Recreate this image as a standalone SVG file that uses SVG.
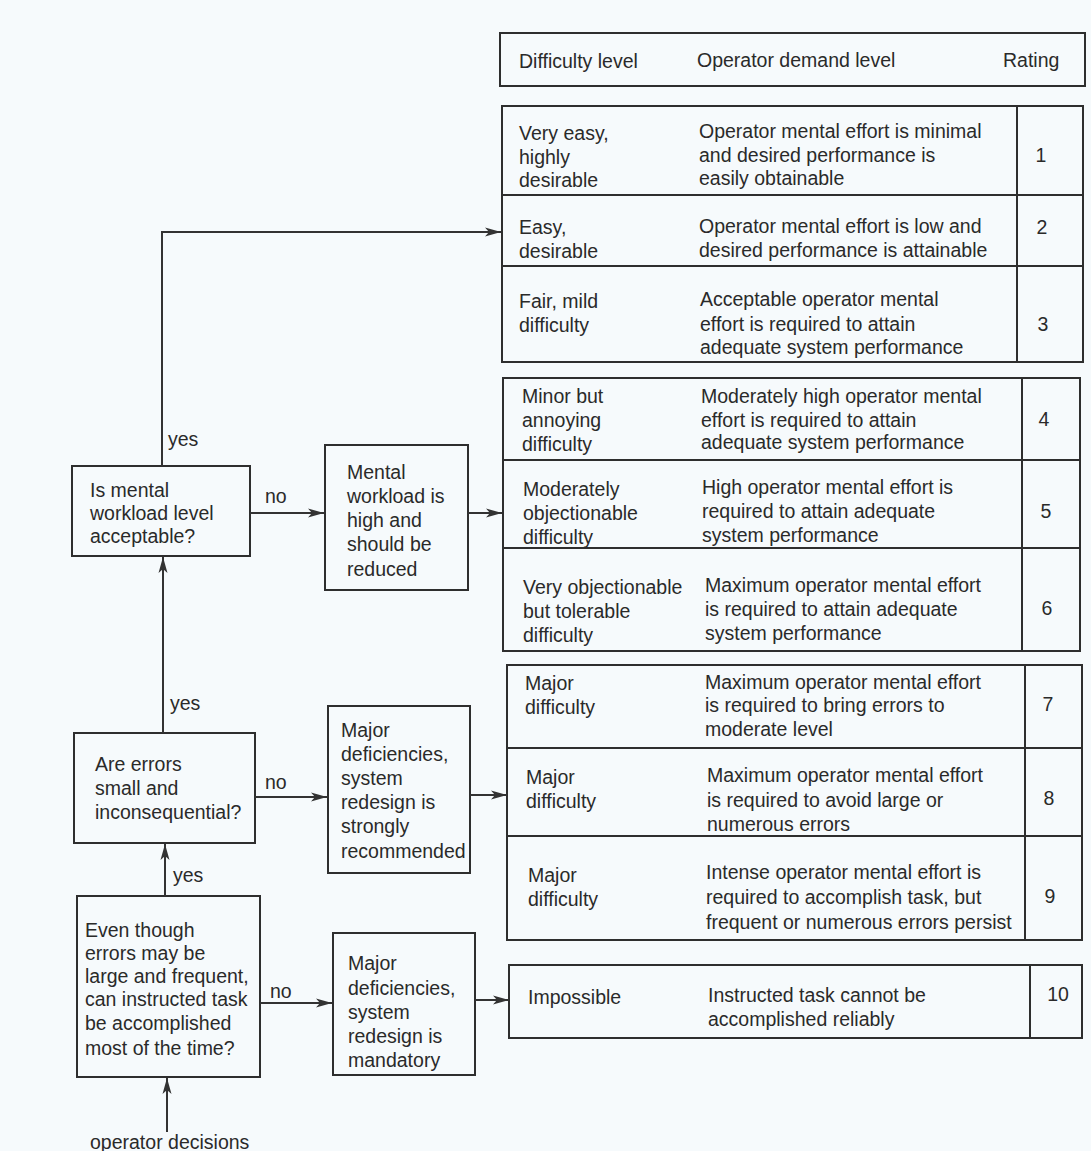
<svg xmlns="http://www.w3.org/2000/svg" width="1091" height="1151" viewBox="0 0 1091 1151">
<defs>
<style>
text{font-family:"Liberation Sans",Arial,sans-serif;font-size:19.5px;fill:#2a2a2a;}
.box{fill:none;stroke:#2e2e2e;stroke-width:2;}
.ln{fill:none;stroke:#2e2e2e;stroke-width:2;}
.c{fill:none;stroke:#333;stroke-width:2;}
.r{text-anchor:middle;}
</style>
<marker id="ah" markerUnits="userSpaceOnUse" markerWidth="18" markerHeight="12" refX="16" refY="6" orient="auto">
<path d="M0,1.5 L16,6 L0,10.5 L4,6 Z" fill="#333"/>
</marker>
</defs>
<rect width="1091" height="1151" fill="#f6fafc"/>

<g id="header">
<rect class="box" x="500" y="33" width="585" height="53"/>
<text x="519" y="68">Difficulty level</text>
<text x="697" y="67">Operator demand level</text>
<text x="1003" y="67">Rating</text>
</g>

<g id="group1">
<rect class="box" x="502" y="106" width="581" height="256"/>
<line class="ln" x1="502" y1="195" x2="1083" y2="195"/>
<line class="ln" x1="502" y1="266" x2="1083" y2="266"/>
<line class="ln" x1="1017" y1="106" x2="1017" y2="362"/>
</g>
<g id="row1">
<text><tspan x="519" y="140">Very easy,</tspan><tspan x="519" y="164">highly</tspan><tspan x="519" y="187">desirable</tspan></text>
<text><tspan x="699" y="138">Operator mental effort is minimal</tspan><tspan x="699" y="162">and desired performance is</tspan><tspan x="699" y="185">easily obtainable</tspan></text>
<text class="r" x="1041" y="162">1</text>
</g>
<g id="row2">
<text><tspan x="519" y="234">Easy,</tspan><tspan x="519" y="258">desirable</tspan></text>
<text><tspan x="699" y="233">Operator mental effort is low and</tspan><tspan x="699" y="257">desired performance is attainable</tspan></text>
<text class="r" x="1042" y="234">2</text>
</g>
<g id="row3">
<text><tspan x="519" y="308">Fair, mild</tspan><tspan x="519" y="332">difficulty</tspan></text>
<text><tspan x="700" y="306">Acceptable operator mental</tspan><tspan x="700" y="331">effort is required to attain</tspan><tspan x="700" y="354">adequate system performance</tspan></text>
<text class="r" x="1043" y="331">3</text>
</g>

<g id="group2">
<rect class="box" x="503" y="378" width="577" height="273"/>
<line class="ln" x1="503" y1="460" x2="1080" y2="460"/>
<line class="ln" x1="503" y1="548" x2="1080" y2="548"/>
<line class="ln" x1="1022" y1="378" x2="1022" y2="651"/>
</g>
<g id="row4">
<text><tspan x="522" y="403">Minor but</tspan><tspan x="522" y="427">annoying</tspan><tspan x="522" y="451">difficulty</tspan></text>
<text><tspan x="701" y="403">Moderately high operator mental</tspan><tspan x="701" y="427">effort is required to attain</tspan><tspan x="701" y="449">adequate system performance</tspan></text>
<text class="r" x="1044" y="426">4</text>
</g>
<g id="row5">
<text><tspan x="523" y="496">Moderately</tspan><tspan x="523" y="520">objectionable</tspan><tspan x="523" y="544">difficulty</tspan></text>
<text><tspan x="702" y="494">High operator mental effort is</tspan><tspan x="702" y="518">required to attain adequate</tspan><tspan x="702" y="542">system performance</tspan></text>
<text class="r" x="1046" y="518">5</text>
</g>
<g id="row6">
<text><tspan x="523" y="594">Very objectionable</tspan><tspan x="523" y="618">but tolerable</tspan><tspan x="523" y="642">difficulty</tspan></text>
<text><tspan x="705" y="592">Maximum operator mental effort</tspan><tspan x="705" y="616">is required to attain adequate</tspan><tspan x="705" y="640">system performance</tspan></text>
<text class="r" x="1047" y="615">6</text>
</g>

<g id="group3">
<rect class="box" x="507" y="665" width="575" height="275"/>
<line class="ln" x1="507" y1="748" x2="1082" y2="748"/>
<line class="ln" x1="507" y1="836" x2="1082" y2="836"/>
<line class="ln" x1="1025" y1="665" x2="1025" y2="940"/>
</g>
<g id="row7">
<text><tspan x="525" y="690">Major</tspan><tspan x="525" y="714">difficulty</tspan></text>
<text><tspan x="705" y="689">Maximum operator mental effort</tspan><tspan x="705" y="712">is required to bring errors to</tspan><tspan x="705" y="736">moderate level</tspan></text>
<text class="r" x="1048" y="711">7</text>
</g>
<g id="row8">
<text><tspan x="526" y="784">Major</tspan><tspan x="526" y="808">difficulty</tspan></text>
<text><tspan x="707" y="782">Maximum operator mental effort</tspan><tspan x="707" y="807">is required to avoid large or</tspan><tspan x="707" y="831">numerous errors</tspan></text>
<text class="r" x="1049" y="805">8</text>
</g>
<g id="row9">
<text><tspan x="528" y="882">Major</tspan><tspan x="528" y="906">difficulty</tspan></text>
<text><tspan x="706" y="879">Intense operator mental effort is</tspan><tspan x="706" y="904">required to accomplish task, but</tspan><tspan x="706" y="929">frequent or numerous errors persist</tspan></text>
<text class="r" x="1050" y="903">9</text>
</g>

<g id="group4">
<rect class="box" x="509" y="965" width="573" height="73"/>
<line class="ln" x1="1030" y1="965" x2="1030" y2="1038"/>
</g>
<g id="row10">
<text x="528" y="1004">Impossible</text>
<text><tspan x="708" y="1002">Instructed task cannot be</tspan><tspan x="708" y="1026">accomplished reliably</tspan></text>
<text class="r" x="1058" y="1001">10</text>
</g>

<g id="q-workload">
<rect class="box" x="72" y="466" width="178" height="90"/>
<text><tspan x="90" y="497">Is mental</tspan><tspan x="90" y="520">workload level</tspan><tspan x="90" y="543">acceptable?</tspan></text>
</g>
<g id="workload-high">
<rect class="box" x="325" y="445" width="143" height="145"/>
<text><tspan x="347" y="479">Mental</tspan><tspan x="347" y="503">workload is</tspan><tspan x="347" y="527">high and</tspan><tspan x="347" y="551">should be</tspan><tspan x="347" y="576">reduced</tspan></text>
</g>
<g id="q-errors">
<rect class="box" x="74" y="733" width="181" height="110"/>
<text><tspan x="95" y="771">Are errors</tspan><tspan x="95" y="795">small and</tspan><tspan x="95" y="819">inconsequential?</tspan></text>
</g>
<g id="redesign-strong">
<rect class="box" x="328" y="706" width="142" height="167"/>
<text><tspan x="341" y="737">Major</tspan><tspan x="341" y="761">deficiencies,</tspan><tspan x="341" y="785">system</tspan><tspan x="341" y="809">redesign is</tspan><tspan x="341" y="833">strongly</tspan><tspan x="341" y="858">recommended</tspan></text>
</g>
<g id="q-task">
<rect class="box" x="77" y="896" width="183" height="181"/>
<text><tspan x="85" y="937">Even though</tspan><tspan x="85" y="960">errors may be</tspan><tspan x="85" y="983">large and frequent,</tspan><tspan x="85" y="1006">can instructed task</tspan><tspan x="85" y="1030">be accomplished</tspan><tspan x="85" y="1055">most of the time?</tspan></text>
</g>
<g id="redesign-mandatory">
<rect class="box" x="333" y="933" width="142" height="142"/>
<text><tspan x="348" y="970">Major</tspan><tspan x="348" y="995">deficiencies,</tspan><tspan x="348" y="1019">system</tspan><tspan x="348" y="1043">redesign is</tspan><tspan x="348" y="1067">mandatory</tspan></text>
</g>

<g id="connectors">
<path class="c" d="M162,466 V232 H501" marker-end="url(#ah)"/>
<path class="c" d="M250,513 H324" marker-end="url(#ah)"/>
<path class="c" d="M468,513 H502" marker-end="url(#ah)"/>
<path class="c" d="M163,733 V557" marker-end="url(#ah)"/>
<path class="c" d="M255,797 H327" marker-end="url(#ah)"/>
<path class="c" d="M470,795 H507" marker-end="url(#ah)"/>
<path class="c" d="M165,896 V844" marker-end="url(#ah)"/>
<path class="c" d="M260,1003 H332" marker-end="url(#ah)"/>
<path class="c" d="M475,1000 H509" marker-end="url(#ah)"/>
<path class="c" d="M167,1132 V1078" marker-end="url(#ah)"/>
<text x="168" y="446">yes</text>
<text x="170" y="710">yes</text>
<text x="173" y="882">yes</text>
<text x="265" y="503">no</text>
<text x="265" y="789">no</text>
<text x="270" y="998">no</text>
<text x="90" y="1149">operator decisions</text>
</g>
</svg>
